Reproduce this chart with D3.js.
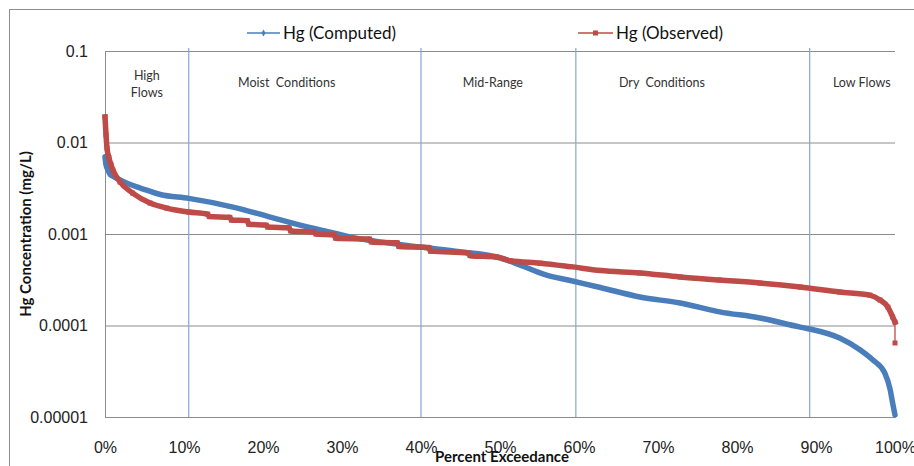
<!DOCTYPE html>
<html>
<head>
<meta charset="utf-8">
<script src="https://cdn.jsdelivr.net/npm/d3@7"></script>
<style>
  html, body { margin: 0; padding: 0; background: #fff; }
  svg { display: block; font-family: Lato, "Open Sans", sans-serif; }
</style>
</head>
<body>
<svg id="chart" width="914" height="466"></svg>
<script>
// ---- data ----
const yTickValues = [0.1, 0.01, 0.001, 0.0001, 0.00001];
const yTickLabels = ["0.1", "0.01", "0.001", "0.0001", "0.00001"];
const xTickValues = [0, 10, 20, 30, 40, 50, 60, 70, 80, 90, 100];
const xTickLabels = ["0%", "10%", "20%", "30%", "40%", "50%", "60%", "70%", "80%", "90%", "100%"];

const zoneBounds = [10.6, 40, 59.6, 89.2];
const zoneNames = [["High", "Flows"], ["Moist  Conditions"], ["Mid-Range"], ["Dry  Conditions"], ["Low Flows"]];
const zoneCenters = [5.3, 23, 49.1, 70.5, 95.8];

const seriesNames = ["Hg (Computed)", "Hg (Observed)"];

const computedPct = [0, 0.13, 0.38, 0.63, 1.0, 1.9, 3.2, 4.4, 7.0, 10.6, 16.2, 20.5, 24.7, 28.5, 31.0, 34.8, 39.9, 44.9, 50.0, 52.5, 55.7, 58.9, 62.7, 67.7, 72.8, 77.8, 82.9, 88.0, 89.2, 93.0, 95.6, 97.2, 98.7, 99.4, 99.7, 100];
const computedVal = [0.0070, 0.0057, 0.0050, 0.0045, 0.0043, 0.0039, 0.00347, 0.0032, 0.0027, 0.00245, 0.00197, 0.00157, 0.00125, 0.00105, 0.00093, 0.00082, 0.00072, 0.00064, 0.00055, 0.00046, 0.00036, 0.00031, 0.00026, 0.000205, 0.000176, 0.000141, 0.000121, 0.000096, 0.0000916, 0.000073, 0.000054, 0.000042, 0.0000303, 0.0000197, 0.0000142, 0.0000105];

const observedPct = [0, 0.06, 0.13, 0.25, 0.5, 0.76, 1.0, 1.9, 3.5, 5.7, 7.8, 10.6, 13.0, 13.2, 15.8, 16.0, 18.0, 18.2, 20.4, 20.6, 23.3, 23.5, 26.5, 26.7, 29.0, 29.2, 33.5, 33.7, 37.0, 37.2, 41.0, 41.2, 46.0, 46.2, 49.5, 51.3, 55.1, 58.9, 62.7, 67.7, 72.8, 77.8, 82.9, 88.0, 93.0, 96.8, 98.1, 99.1, 99.7, 100, 100];
const observedVal = [0.0190, 0.0155, 0.0121, 0.0087, 0.0068, 0.0057, 0.0050, 0.0037, 0.0028, 0.00218, 0.00192, 0.00174, 0.00165, 0.00155, 0.00152, 0.00142, 0.00140, 0.00128, 0.00125, 0.00119, 0.00117, 0.00108, 0.00105, 0.00100, 0.00098, 0.00090, 0.00088, 0.00082, 0.00080, 0.00073, 0.00071, 0.00065, 0.00062, 0.00058, 0.00056, 0.00051, 0.00048, 0.00044, 0.00040, 0.000375, 0.000339, 0.000314, 0.000291, 0.000263, 0.000232, 0.000215, 0.000190, 0.000159, 0.000124, 0.000109, 0.0000644];

// ---- layout ----
const svg = d3.select("#chart");
const pLeft = 105, pRight = 895, pTop = 51, pBottom = 417;
const x = d3.scaleLinear().domain([0, 100]).range([pLeft, pRight]);
const y = d3.scaleLog().domain([0.00001, 0.1]).range([pBottom, pTop]);

const blue = "#4a7ebb", red = "#be4b48", grid = "#8c8c8c", zoneCol = "#86a6d0";

// outer border
svg.append("rect").attr("x", 9.5).attr("y", 9.5).attr("width", 930).attr("height", 480)
  .attr("fill", "none").attr("stroke", grid).attr("stroke-width", 1);

// horizontal grid + y labels
const yAxis = d3.axisLeft(y).tickValues(yTickValues)
  .tickFormat((d, i) => yTickLabels[i]).tickSize(-(pRight - pLeft)).tickPadding(17);
const gy = svg.append("g").attr("transform", `translate(${pLeft},0)`).call(yAxis);
gy.select(".domain").attr("stroke", grid);
gy.selectAll(".tick line").attr("stroke", grid);
gy.selectAll(".tick text").attr("font-size", 16).attr("fill", "#222");

// zone lines
svg.append("g").selectAll("line").data(zoneBounds).join("line")
  .attr("x1", d => x(d)).attr("x2", d => x(d)).attr("y1", pTop - 3).attr("y2", pBottom)
  .attr("stroke", zoneCol).attr("stroke-width", 1.2);

// x axis
const xAxis = d3.axisBottom(x).tickValues(xTickValues)
  .tickFormat((d, i) => xTickLabels[i]).tickSize(0).tickPadding(25);
const gx = svg.append("g").attr("transform", `translate(0,${pBottom})`).call(xAxis);
gx.select(".domain").attr("stroke", grid);
gx.selectAll(".tick text").attr("font-size", 16).attr("fill", "#222");

// zone labels
zoneNames.forEach((lines, i) => {
  const t = svg.append("text").attr("x", x(zoneCenters[i])).attr("text-anchor", "middle")
    .attr("font-size", 12.5).attr("fill", "#333").style("white-space", "pre");
  if (lines.length === 2) {
    t.append("tspan").attr("x", x(zoneCenters[i])).attr("y", 80).text(lines[0]);
    t.append("tspan").attr("x", x(zoneCenters[i])).attr("y", 97).text(lines[1]);
  } else {
    t.attr("y", 87).text(lines[0]);
  }
});

// series
const computed = computedPct.map((p, i) => [p, computedVal[i]]);
const observed = observedPct.map((p, i) => [p, observedVal[i]]);
const line = d3.line().x(d => x(d[0])).y(d => y(d[1]));
const smooth = d3.line().x(d => x(d[0])).y(d => y(d[1])).curve(d3.curveMonotoneX);

svg.append("path").datum(computed).attr("d", smooth).attr("fill", "none")
  .attr("stroke", blue).attr("stroke-width", 5.5).attr("stroke-linejoin", "round").attr("stroke-linecap", "round");

const obsBody = observed.slice(0, observed.length - 1);
const obsTail = observed.slice(observed.length - 2);
svg.append("path").datum(obsTail).attr("d", line).attr("fill", "none")
  .attr("stroke", red).attr("stroke-width", 1.3);
svg.append("path").datum(obsBody).attr("d", smooth).attr("fill", "none")
  .attr("stroke", red).attr("stroke-width", 5.5).attr("stroke-linejoin", "miter").attr("stroke-linecap", "square");
svg.append("g").selectAll("rect").data(observed).join("rect")
  .attr("x", d => x(d[0]) - 2.5).attr("y", d => y(d[1]) - 2.5).attr("width", 5).attr("height", 5)
  .attr("fill", red);

// legend
const legend = svg.append("g");
[[247, 280, blue, "diamond"], [578, 613, red, "square"]].forEach((l, i) => {
  legend.append("line").attr("x1", l[0]).attr("x2", l[1]).attr("y1", 33).attr("y2", 33)
    .attr("stroke", l[2]).attr("stroke-width", 1.3);
  const cx = (l[0] + l[1]) / 2;
  if (l[3] === "square") {
    legend.append("rect").attr("x", cx - 2.5).attr("y", 30.5).attr("width", 5).attr("height", 5).attr("fill", l[2]);
  } else {
    legend.append("path").attr("d", d3.symbol(d3.symbolDiamond, 14)()).attr("transform", `translate(${cx},33)`).attr("fill", l[2]);
  }
  legend.append("text").attr("x", l[1] + 3).attr("y", 39).attr("font-size", 17).attr("fill", "#111")
    .text(seriesNames[i]);
});

// axis titles
svg.append("text").attr("transform", `translate(31,${(pTop + pBottom) / 2}) rotate(-90)`)
  .attr("text-anchor", "middle").attr("font-size", 15).attr("font-weight", "bold").attr("fill", "#111")
  .text("Hg Concentration (mg/L)");
svg.append("text").attr("x", 502).attr("y", 462).attr("text-anchor", "middle")
  .attr("font-size", 15).attr("font-weight", "bold").attr("fill", "#111")
  .text("Percent Exceedance");
</script>
</body>
</html>
